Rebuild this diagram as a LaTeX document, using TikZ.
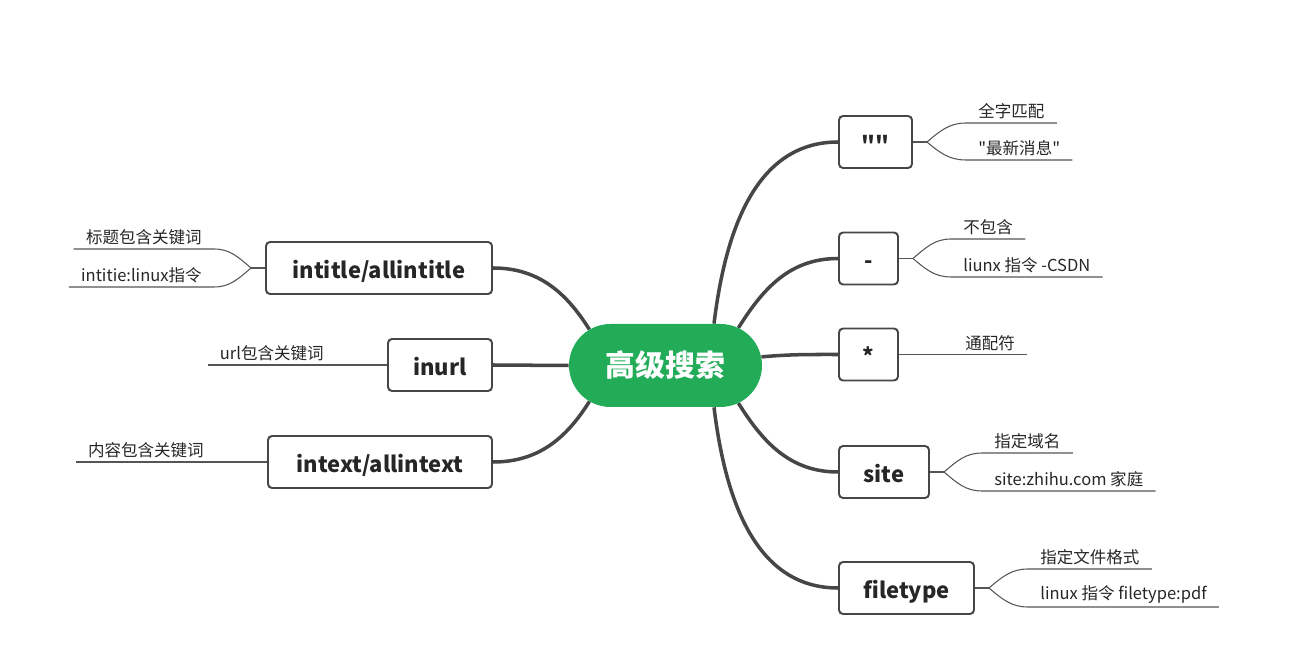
\documentclass[tikz,border=0pt]{standalone}
\usepackage{fontspec}
\setmainfont{Noto Sans CJK SC}[Ligatures=TeXOff]
\usepackage{tikz}
\usetikzlibrary{calc, backgrounds}
\definecolor{hubgreen}{RGB}{34,172,88}
\definecolor{inkgray}{RGB}{70,70,70}
\definecolor{twiggray}{RGB}{85,85,85}
\tikzset{
  hubnode/.style={fill=hubgreen, rounded corners=0.83cm, minimum width=3.86cm,
                  minimum height=1.66cm, inner sep=0pt, text=white,
                  font=\fontsize{17}{20}\selectfont\bfseries},
  kwbox/.style={draw=inkgray, fill=white, rounded corners=0.08cm, line width=1.1pt,
                minimum width=#1, minimum height=1.04cm, inner sep=0pt,
                text height=1.15em, text depth=0pt,
                text=black!85, font=\fontsize{12.5}{15}\selectfont\bfseries},
  leaf/.style={inner xsep=0.24cm, inner ysep=0.07cm, text=black!85,
               font=\fontsize{9.4}{11}\selectfont},
  trunk/.style={draw=inkgray, line width=2pt},
  twig/.style={draw=twiggray, line width=0.6pt},
}

\begin{document}
\begin{tikzpicture}

  \useasboundingbox (0,0) rectangle (26.04,13.28);

  % ─── centre ──────────────────────────────────────────────
  \node[hubnode] (hub) at (13.31, 5.97) {高级搜索};
  \coordinate (hR) at ($(hub.east)+(-0.83,0)$);
  \coordinate (hL) at ($(hub.west)+(0.83,0)$);

  % ─── right keywords ──────────────────────────────────────
  \node[kwbox=1.46cm] (quo) at (17.51, 10.44) {""};
  \node[kwbox=1.18cm] (neg) at (17.37, 8.11) {-};
  \node[kwbox=1.18cm] (wild) at (17.37, 6.19) {*};
  \node[kwbox=1.80cm] (site) at (17.68, 3.84) {site};
  \node[kwbox=2.70cm] (ftype) at (18.13, 1.52) {filetype};

  % ─── left keywords ───────────────────────────────────────
  \node[kwbox=4.52cm] (title) at (7.58, 7.92) {intitle/allintitle};
  \node[kwbox=2.08cm] (url) at (8.80, 5.98) {inurl};
  \node[kwbox=4.48cm] (text) at (7.60, 4.04) {intext/allintext};

  % trunks, under the hub
  \begin{scope}[on background layer]
    \draw[trunk] ($(hub.north)+(0.97,0)$) to[out=83, in=180] (quo.west);
    \draw[trunk] ($(hR)+(65:0.83)$) to[out=58, in=180] (neg.west);
    \draw[trunk] ($(hR)+(12:0.83)$) to[out=5, in=180] (wild.west);
    \draw[trunk] ($(hR)+(-65:0.83)$) to[out=-58, in=180] (site.west);
    \draw[trunk] ($(hub.south)+(0.97,0)$) to[out=-83, in=180] (ftype.west);
    \draw[trunk] ($(hL)+(120:0.83)$) to[out=122, in=0] (title.east);
    \draw[trunk] (hub.west) -- (url.east);
    \draw[trunk] ($(hL)+(240:0.83)$) to[out=-122, in=0] (text.east);
  \end{scope}

  % ─── leaves, right ───────────────────────────────────────
  \node[leaf, anchor=south west] (quo1) at (19.32, 10.82) {全字匹配};
  \node[leaf, anchor=south west] (quo2) at (19.32, 10.08) {"最新消息"};
  \node[leaf, anchor=south west] (neg1) at (19.02, 8.50) {不包含};
  \node[leaf, anchor=south west] (neg2) at (19.02, 7.74) {liunx 指令 -CSDN};
  \node[leaf, anchor=south west] (wild1) at (19.06, 6.19) {通配符};
  \node[leaf, anchor=south west] (site1) at (19.64, 4.22) {指定域名};
  \node[leaf, anchor=south west] (site2) at (19.64, 3.46) {site:zhihu.com 家庭};
  \node[leaf, anchor=south west] (ftype1) at (20.56, 1.90) {指定文件格式};
  \node[leaf, anchor=south west] (ftype2) at (20.56, 1.14) {linux 指令 filetype:pdf};

  % ─── leaves, left ────────────────────────────────────────
  \node[leaf, anchor=south east] (title1) at (4.28, 8.30) {标题包含关键词};
  \node[leaf, anchor=south east] (title2) at (4.28, 7.54) {intitie:linux指令};
  \node[leaf, anchor=south east] (url1) at (6.72, 5.98) {url包含关键词};
  \node[leaf, anchor=south east] (text1) at (4.32, 4.04) {内容包含关键词};

  % forks
  \coordinate (quoF) at ($(quo.east)+(0.28,0)$);
  \coordinate (negF) at ($(neg.east)+(0.28,0)$);
  \coordinate (siteF) at ($(site.east)+(0.28,0)$);
  \coordinate (ftypeF) at ($(ftype.east)+(0.28,0)$);
  \coordinate (titleF) at ($(title.west)+(-0.28,0)$);

  \draw[twig] (quo.east) -- (quoF);
  \draw[twig] (quoF) to[out=40, in=180] (quo1.south west) -- (quo1.south east);
  \draw[twig] (quoF) to[out=-40, in=180] (quo2.south west) -- (quo2.south east);

  \draw[twig] (neg.east) -- (negF);
  \draw[twig] (negF) to[out=40, in=180] (neg1.south west) -- (neg1.south east);
  \draw[twig] (negF) to[out=-40, in=180] (neg2.south west) -- (neg2.south east);

  \draw[twig] (wild.east) -- (wild1.south west) -- (wild1.south east);

  \draw[twig] (site.east) -- (siteF);
  \draw[twig] (siteF) to[out=40, in=180] (site1.south west) -- (site1.south east);
  \draw[twig] (siteF) to[out=-40, in=180] (site2.south west) -- (site2.south east);

  \draw[twig] (ftype.east) -- (ftypeF);
  \draw[twig] (ftypeF) to[out=40, in=180] (ftype1.south west) -- (ftype1.south east);
  \draw[twig] (ftypeF) to[out=-40, in=180] (ftype2.south west) -- (ftype2.south east);

  \draw[twig] (title.west) -- (titleF);
  \draw[twig] (titleF) to[out=140, in=0] (title1.south east) -- (title1.south west);
  \draw[twig] (titleF) to[out=-140, in=0] (title2.south east) -- (title2.south west);

  \draw[twig] (url.west) -- (url1.south east) -- (url1.south west);
  \draw[twig] (text.west) -- (text1.south east) -- (text1.south west);

\end{tikzpicture}
\end{document}
